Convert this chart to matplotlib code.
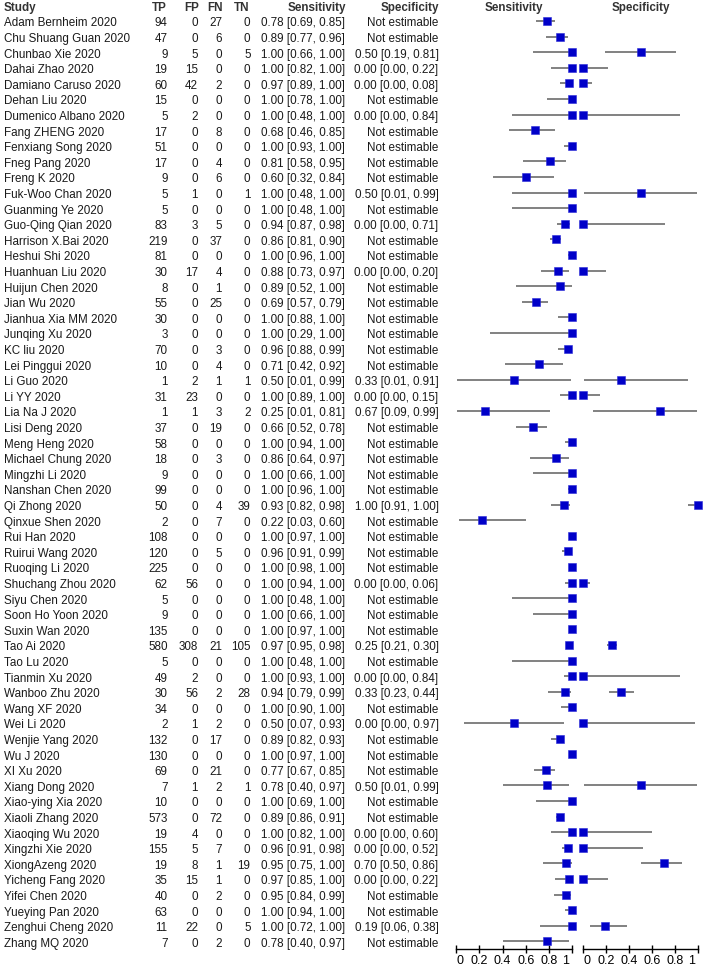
import matplotlib
matplotlib.use("Agg")
import matplotlib.pyplot as plt
from matplotlib.transforms import blended_transform_factory, ScaledTranslation
import numpy as np

plt.rcParams['font.family'] = ['Liberation Sans', 'DejaVu Sans']

studies = ["Adam Bernheim 2020", "Chu Shuang Guan 2020", "Chunbao Xie 2020", "Dahai Zhao 2020",
           "Damiano Caruso 2020", "Dehan Liu 2020", "Dumenico Albano 2020", "Fang ZHENG 2020",
           "Fenxiang Song 2020", "Fneg Pang 2020", "Freng K 2020", "Fuk-Woo Chan 2020",
           "Guanming Ye 2020", "Guo-Qing Qian 2020", "Harrison X.Bai 2020", "Heshui Shi 2020",
           "Huanhuan Liu 2020", "Huijun Chen 2020", "Jian Wu 2020", "Jianhua Xia MM 2020",
           "Junqing Xu 2020", "KC liu 2020", "Lei Pinggui 2020", "Li Guo 2020", "Li YY 2020",
           "Lia Na J 2020", "Lisi Deng 2020", "Meng Heng 2020", "Michael Chung 2020",
           "Mingzhi Li 2020", "Nanshan Chen 2020", "Qi Zhong 2020", "Qinxue Shen 2020",
           "Rui Han 2020", "Ruirui Wang 2020", "Ruoqing Li 2020", "Shuchang Zhou 2020",
           "Siyu Chen 2020", "Soon Ho Yoon 2020", "Suxin Wan 2020", "Tao Ai 2020", "Tao Lu 2020",
           "Tianmin Xu 2020", "Wanboo Zhu 2020", "Wang XF 2020", "Wei Li 2020", "Wenjie Yang 2020",
           "Wu J 2020", "XI Xu 2020", "Xiang Dong 2020", "Xiao-ying Xia 2020", "Xiaoli Zhang 2020",
           "Xiaoqing Wu 2020", "Xingzhi Xie 2020", "XiongAzeng 2020", "Yicheng Fang 2020",
           "Yifei Chen 2020", "Yueying Pan 2020", "Zenghui Cheng 2020", "Zhang MQ 2020"]

tp = [94, 47, 9, 19, 60, 15, 5, 17, 51, 17, 9, 5, 5, 83, 219, 81, 30, 8, 55, 30, 3, 70, 10, 1, 31,
      1, 37, 58, 18, 9, 99, 50, 2, 108, 120, 225, 62, 5, 9, 135, 580, 5, 49, 30, 34, 2, 132, 130,
      69, 7, 10, 573, 19, 155, 19, 35, 40, 63, 11, 7]
fp = [0, 0, 5, 15, 42, 0, 2, 0, 0, 0, 0, 1, 0, 3, 0, 0, 17, 0, 0, 0, 0, 0, 0, 2, 23,
      1, 0, 0, 0, 0, 0, 0, 0, 0, 0, 0, 56, 0, 0, 0, 308, 0, 2, 56, 0, 1, 0, 0,
      0, 1, 0, 0, 4, 5, 8, 15, 0, 0, 22, 0]
fn = [27, 6, 0, 0, 2, 0, 0, 8, 0, 4, 6, 0, 0, 5, 37, 0, 4, 1, 25, 0, 0, 3, 4, 1, 0,
      3, 19, 0, 3, 0, 0, 4, 7, 0, 5, 0, 0, 0, 0, 0, 21, 0, 0, 2, 0, 2, 17, 0,
      21, 2, 0, 72, 0, 7, 1, 1, 2, 0, 0, 2]
tn = [0, 0, 5, 0, 0, 0, 0, 0, 0, 0, 0, 1, 0, 0, 0, 0, 0, 0, 0, 0, 0, 0, 0, 1, 0,
      2, 0, 0, 0, 0, 0, 39, 0, 0, 0, 0, 0, 0, 0, 0, 105, 0, 0, 28, 0, 0, 0, 0,
      0, 1, 0, 0, 0, 0, 19, 0, 0, 0, 5, 0]

sens = [0.78, 0.89, 1.00, 1.00, 0.97, 1.00, 1.00, 0.68, 1.00, 0.81, 0.60, 1.00, 1.00, 0.94, 0.86,
        1.00, 0.88, 0.89, 0.69, 1.00, 1.00, 0.96, 0.71, 0.50, 1.00, 0.25, 0.66, 1.00, 0.86, 1.00,
        1.00, 0.93, 0.22, 1.00, 0.96, 1.00, 1.00, 1.00, 1.00, 1.00, 0.97, 1.00, 1.00, 0.94, 1.00,
        0.50, 0.89, 1.00, 0.77, 0.78, 1.00, 0.89, 1.00, 0.96, 0.95, 0.97, 0.95, 1.00, 1.00, 0.78]
sens_lo = [0.69, 0.77, 0.66, 0.82, 0.89, 0.78, 0.48, 0.46, 0.93, 0.58, 0.32, 0.48, 0.48, 0.87, 0.81,
           0.96, 0.73, 0.52, 0.57, 0.88, 0.29, 0.88, 0.42, 0.01, 0.89, 0.01, 0.52, 0.94, 0.64, 0.66,
           0.96, 0.82, 0.03, 0.97, 0.91, 0.98, 0.94, 0.48, 0.66, 0.97, 0.95, 0.48, 0.93, 0.79, 0.90,
           0.07, 0.82, 0.97, 0.67, 0.40, 0.69, 0.86, 0.82, 0.91, 0.75, 0.85, 0.84, 0.94, 0.72, 0.40]
sens_hi = [0.85, 0.96, 1.00, 1.00, 1.00, 1.00, 1.00, 0.85, 1.00, 0.95, 0.84, 1.00, 1.00, 0.98, 0.90,
           1.00, 0.97, 1.00, 0.79, 1.00, 1.00, 0.99, 0.92, 0.99, 1.00, 0.81, 0.78, 1.00, 0.97, 1.00,
           1.00, 0.98, 0.60, 1.00, 0.99, 1.00, 1.00, 1.00, 1.00, 1.00, 0.98, 1.00, 1.00, 0.99, 1.00,
           0.93, 0.93, 1.00, 0.85, 0.97, 1.00, 0.91, 1.00, 0.98, 1.00, 1.00, 0.99, 1.00, 1.00, 0.97]

N = None
spec = [N, N, 0.50, 0.00, 0.00, N, 0.00, N, N, N, N, 0.50, N, 0.00, N, N, 0.00, N, N, N, N, N, N,
        0.33, 0.00, 0.67, N, N, N, N, N, 1.00, N, N, N, N, 0.00, N, N, N, 0.25, N, 0.00, 0.33, N,
        0.00, N, N, N, 0.50, N, N, 0.00, 0.00, 0.70, 0.00, N, N, 0.19, N]
spec_lo = [N, N, 0.19, 0.00, 0.00, N, 0.00, N, N, N, N, 0.01, N, 0.00, N, N, 0.00, N, N, N, N, N, N,
           0.01, 0.00, 0.09, N, N, N, N, N, 0.91, N, N, N, N, 0.00, N, N, N, 0.21, N, 0.00, 0.23, N,
           0.00, N, N, N, 0.01, N, N, 0.00, 0.00, 0.50, 0.00, N, N, 0.06, N]
spec_hi = [N, N, 0.81, 0.22, 0.08, N, 0.84, N, N, N, N, 0.99, N, 0.71, N, N, 0.20, N, N, N, N, N, N,
           0.91, 0.15, 0.99, N, N, N, N, N, 1.00, N, N, N, N, 0.06, N, N, N, 0.30, N, 0.84, 0.44, N,
           0.97, N, N, N, 0.99, N, N, 0.60, 0.52, 0.86, 0.22, N, N, 0.38, N]

tick_vals = [0, 0.2, 0.4, 0.6, 0.8, 1]
tick_labels = ["0", "0.2", "0.4", "0.6", "0.8", "1"]

W, H = 708, 967
fig = plt.figure(figsize=(W / 100, H / 100), dpi=100)

row0_px = 21.0
row_px = 15.6
axis_px = 949.0
ymax = (axis_px - row0_px) / row_px
top_px = row0_px - 0.5 * row_px

def axes_at(x0, x1):
    return fig.add_axes([x0 / W, 1 - axis_px / H, (x1 - x0) / W, (axis_px - top_px) / H])

ax_se = axes_at(456, 572.3)
ax_sp = axes_at(582.7, 698.3)

line_col = "#5f5f5f"
mk_col = "#0000C8"
n = len(studies)
rows = np.arange(n)

for ax in (ax_se, ax_sp):
    ax.set_xlim(0, 1)
    ax.set_ylim(ymax, -0.5)
    for s in ("top", "left", "right"):
        ax.spines[s].set_visible(False)
    ax.spines["bottom"].set_linewidth(1.0)
    ax.set_yticks([])
    ax.set_xticks(tick_vals)
    ax.set_xticklabels(tick_labels, fontsize=9)
    ax.tick_params(axis="x", direction="inout", length=6, width=1.0, pad=1, colors="black")
    labs = ax.get_xticklabels()
    labs[0].set_ha("left")
    labs[-1].set_ha("right")
    labs[0].set_transform(labs[0].get_transform() + ScaledTranslation(1 / 100, 0, fig.dpi_scale_trans))
    labs[-1].set_transform(labs[-1].get_transform() + ScaledTranslation(-3 / 100, 0, fig.dpi_scale_trans))
    ax.patch.set_visible(False)

for i in rows:
    ax_se.plot([sens_lo[i], sens_hi[i]], [i, i], color=line_col, lw=1.1, solid_capstyle="butt",
               clip_on=False, zorder=2)
    ax_se.plot([sens[i]], [i], marker="s", ms=5.2, color=mk_col, mec="#2a2ad8", mew=0.4,
               clip_on=False, zorder=3)
    if spec[i] is not None:
        ax_sp.plot([spec_lo[i], spec_hi[i]], [i, i], color=line_col, lw=1.1, solid_capstyle="butt",
                   clip_on=False, zorder=2)
        ax_sp.plot([spec[i]], [i], marker="s", ms=5.2, color=mk_col, mec="#2a2ad8", mew=0.4,
                   clip_on=False, zorder=3)

tr = blended_transform_factory(fig.transFigure, ax_se.transData)
fs = 8.4
tcol = "#1a1a1a"
hcol = "#333333"
base_off = 0.35

def put(xpx, y, s, ha, bold=False, color=tcol):
    fig.text(xpx / W, y, s, ha=ha, va="baseline", fontsize=fs, color=color,
             fontweight="bold" if bold else "normal", transform=tr)

hy = -1 + base_off
put(4, hy, "Study", "left", True, hcol)
put(167, hy, "TP", "right", True, hcol)
put(199.5, hy, "FP", "right", True, hcol)
put(222.5, hy, "FN", "right", True, hcol)
put(249, hy, "TN", "right", True, hcol)
put(346.5, hy, "Sensitivity", "right", True, hcol)
put(439, hy, "Specificity", "right", True, hcol)
put(514, hy, "Sensitivity", "center", True, hcol)
put(640.5, hy, "Specificity", "center", True, hcol)

def fmt(v, lo, hi):
    if v is None:
        return "Not estimable"
    return f"{v:.2f} [{lo:.2f}, {hi:.2f}]"

for i in rows:
    y = i + base_off
    put(4, y, studies[i], "left")
    put(167.5, y, str(tp[i]), "right")
    put(198, y, str(fp[i]), "right")
    put(222, y, str(fn[i]), "right")
    put(250.5, y, str(tn[i]), "right")
    put(345, y, fmt(sens[i], sens_lo[i], sens_hi[i]), "right")
    put(438.5, y, fmt(spec[i], spec_lo[i], spec_hi[i]), "right")

fig.savefig("out.png", dpi=100, facecolor="white")
